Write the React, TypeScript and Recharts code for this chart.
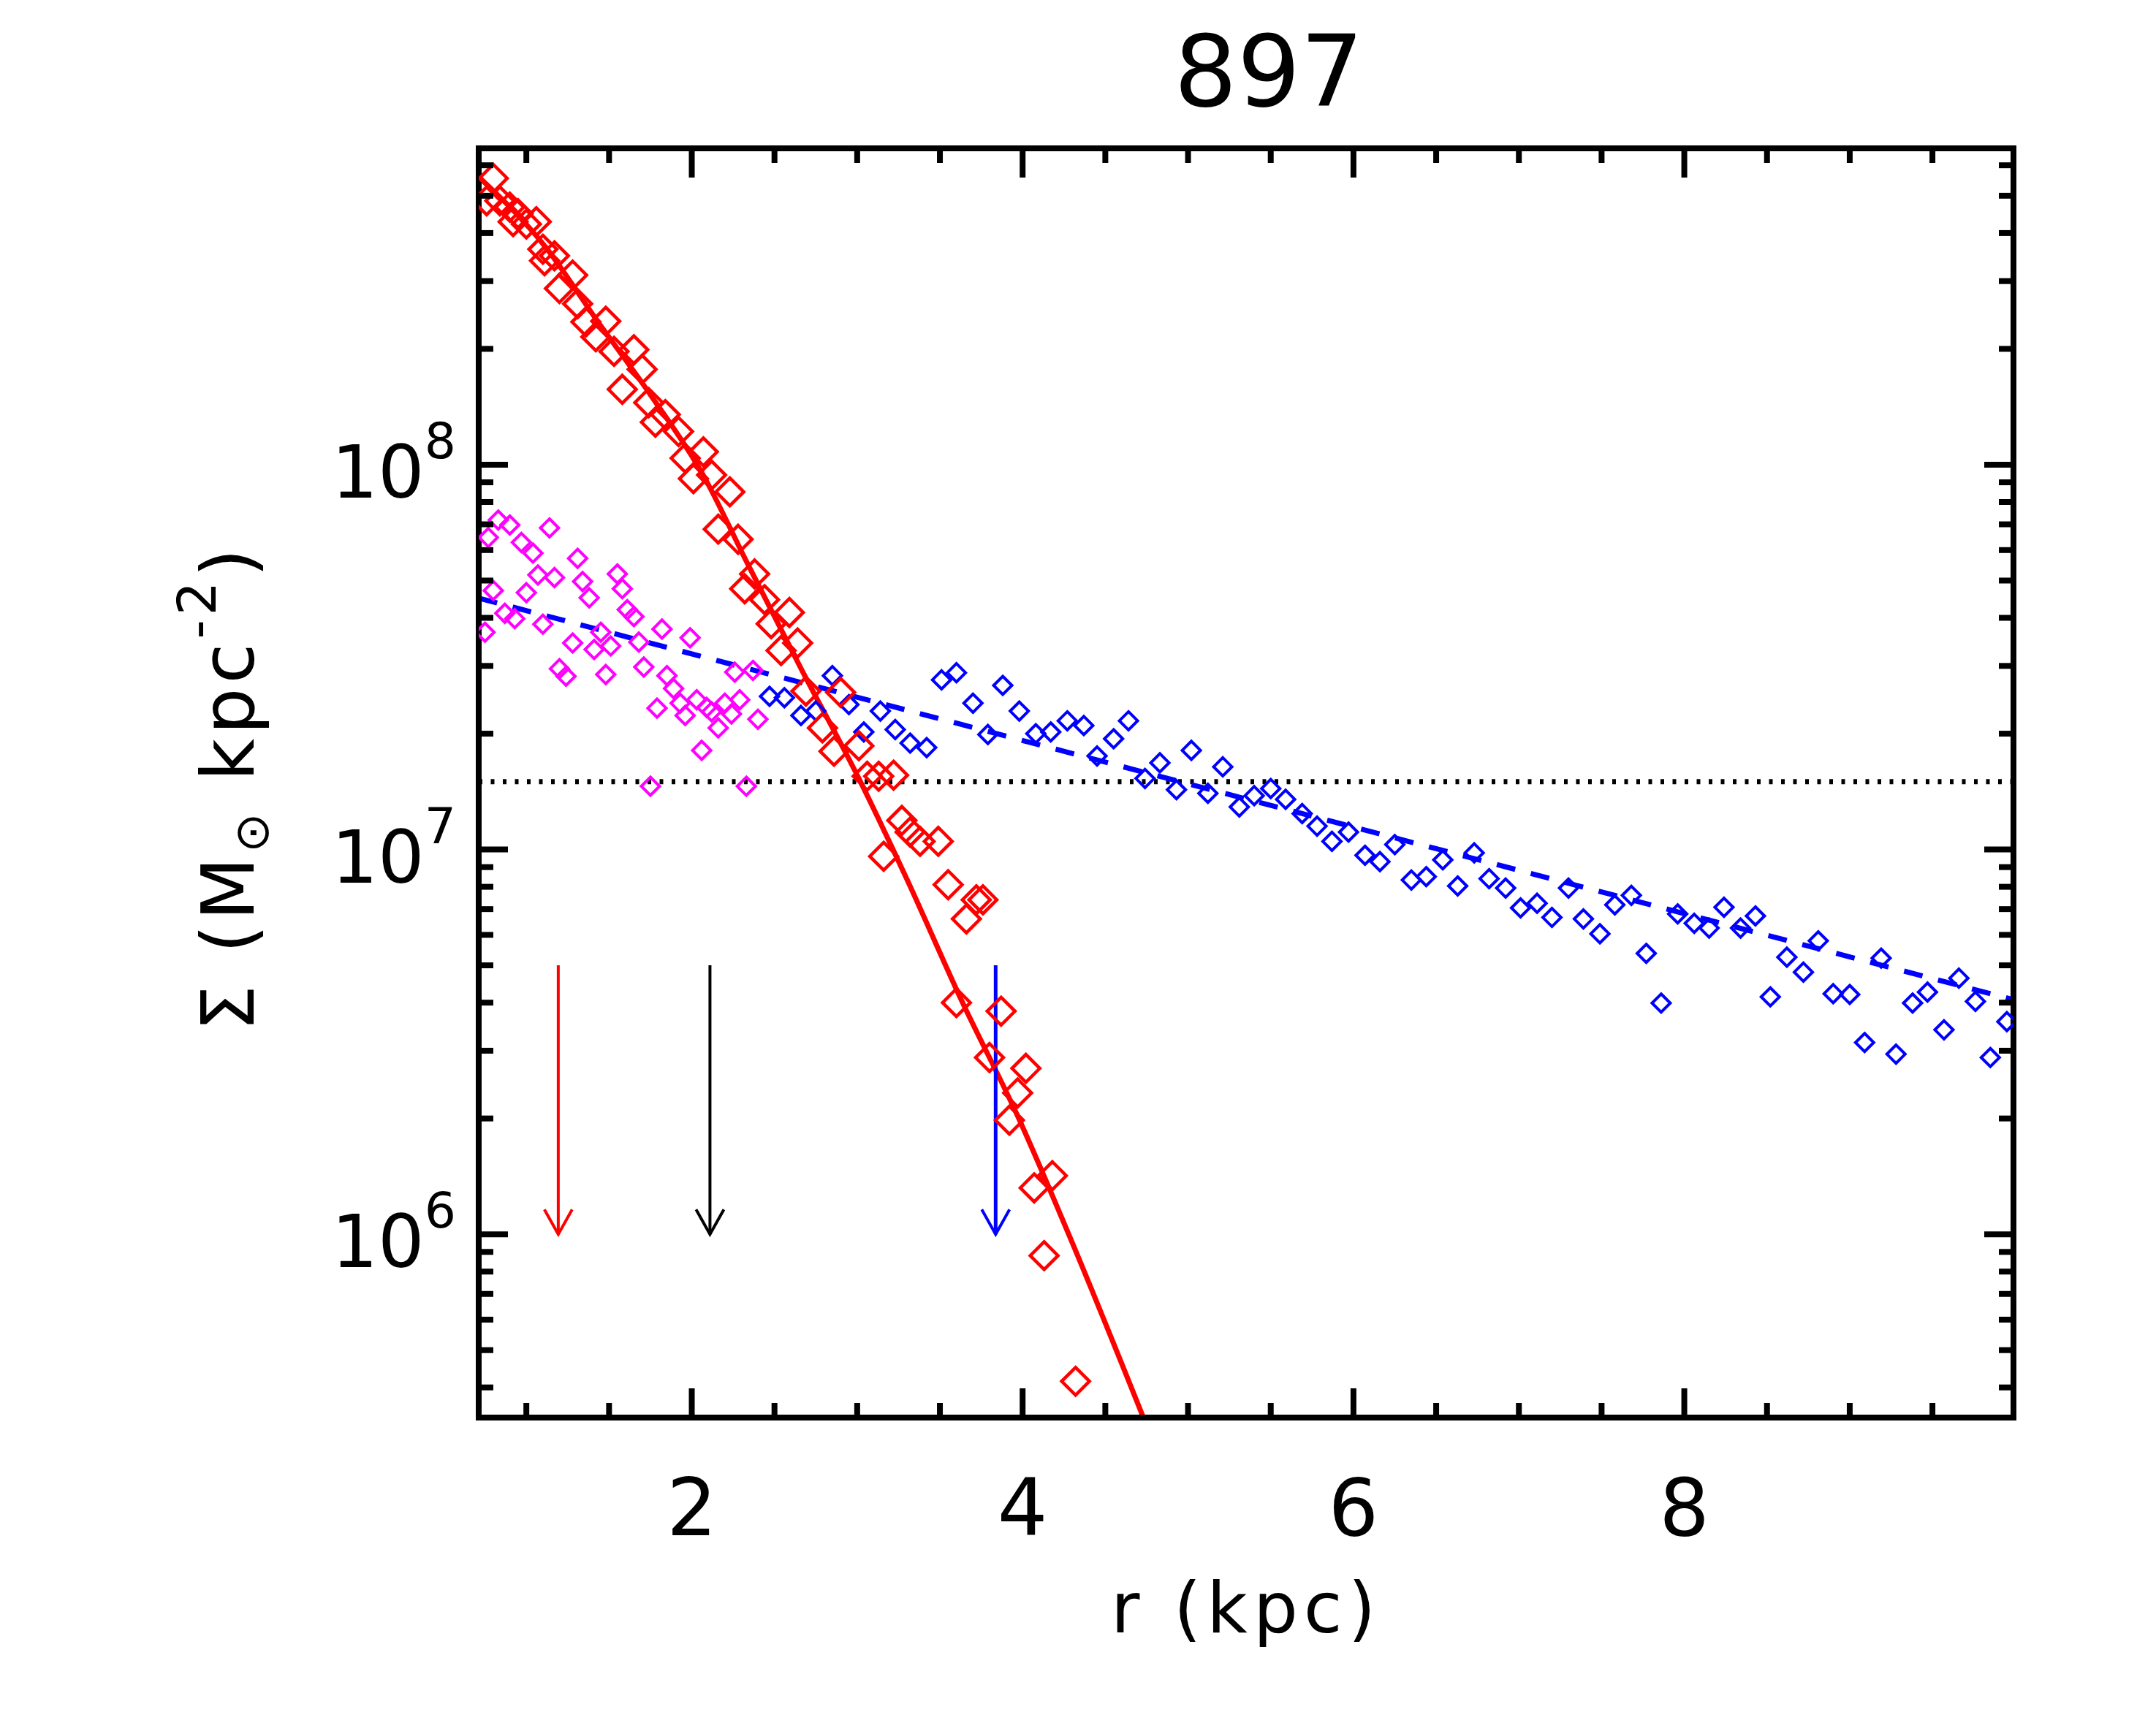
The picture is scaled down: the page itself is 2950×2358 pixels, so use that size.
import type { FC } from 'react';
import { ComposedChart, Line, Scatter, XAxis, YAxis } from 'recharts';

type Pt = { r: number; s: number };

const W = 2950;
const H = 2358;
// axes get 1px each, so the plot box is 655..2755 x 203..1940
const MARGIN = { top: 202, right: 194, bottom: 417, left: 654 };
const FONT = '"DejaVu Sans", sans-serif';

const xDomain: [number, number] = [0.712, 9.99];
const yDomain: [number, number] = [3.34e5, 6.64e8];

const xTicks = [1, 1.5, 2, 2.5, 3, 3.5, 4, 4.5, 5, 5.5, 6, 6.5, 7, 7.5, 8, 8.5, 9, 9.5];
const xMajor = [2, 4, 6, 8];
const yTicks = [
  4e5, 5e5, 6e5, 7e5, 8e5, 9e5,
  1e6, 2e6, 3e6, 4e6, 5e6, 6e6, 7e6, 8e6, 9e6,
  1e7, 2e7, 3e7, 4e7, 5e7, 6e7, 7e7, 8e7, 9e7,
  1e8, 2e8, 3e8, 4e8, 5e8, 6e8,
];

// bulge profile (red diamonds): [r kpc, Sigma]
const bulgePoints: [number, number][] = [
  [0.80, 5.55e8], [0.76, 4.85e8], [0.84, 4.85e8], [0.90, 4.67e8], [0.92, 4.28e8], [0.95, 4.49e8],
  [1.00, 4.22e8], [1.06, 4.28e8], [1.10, 3.63e8], [1.11, 3.39e8], [1.17, 3.49e8], [1.20, 2.87e8],
  [1.28, 3.11e8], [1.31, 2.62e8], [1.36, 2.35e8], [1.42, 2.15e8], [1.48, 2.36e8], [1.53, 1.97e8],
  [1.58, 1.57e8], [1.65, 1.99e8], [1.70, 1.77e8], [1.74, 1.45e8], [1.78, 1.29e8], [1.84, 1.35e8],
  [1.92, 1.22e8], [1.96, 1.04e8], [2.01, 9.2e7], [2.07, 1.08e8], [2.12, 9.4e7], [2.16, 6.8e7],
  [2.23, 8.5e7], [2.28, 6.4e7], [2.32, 4.76e7], [2.38, 5.2e7], [2.44, 4.46e7], [2.48, 3.86e7],
  [2.54, 3.29e7], [2.59, 4.13e7], [2.64, 3.44e7], [2.69, 2.58e7], [2.79, 2.07e7], [2.86, 1.8e7],
  [2.90, 2.56e7], [3.01, 1.86e7], [3.06, 1.55e7], [3.13, 1.55e7], [3.16, 9.6e6], [3.22, 1.56e7],
  [3.27, 1.19e7], [3.32, 1.11e7], [3.38, 1.05e7], [3.49, 1.05e7], [3.55, 8.1e6], [3.60, 4.0e6],
  [3.66, 6.6e6], [3.72, 7.4e6], [3.76, 7.4e6], [3.80, 2.88e6], [3.87, 3.8e6], [3.92, 1.98e6],
  [3.97, 2.33e6], [4.02, 2.7e6], [4.07, 1.32e6], [4.13, 8.8e5], [4.18, 1.42e6], [4.32, 4.15e5],
];

// magenta diamonds
const innerPoints: [number, number][] = [
  [0.75, 3.67e7], [0.77, 6.47e7], [0.80, 4.71e7], [0.83, 7.18e7], [0.87, 4.11e7], [0.90, 6.97e7],
  [0.93, 3.98e7], [0.97, 6.28e7], [1.00, 4.65e7], [1.04, 5.89e7], [1.07, 5.17e7], [1.10, 3.85e7],
  [1.14, 6.85e7], [1.17, 5.09e7], [1.20, 2.95e7], [1.24, 2.82e7], [1.28, 3.44e7], [1.31, 5.71e7],
  [1.34, 4.97e7], [1.38, 4.51e7], [1.41, 3.31e7], [1.45, 3.67e7], [1.48, 2.85e7], [1.51, 3.38e7],
  [1.55, 5.2e7], [1.58, 4.76e7], [1.61, 4.2e7], [1.65, 4.03e7], [1.68, 3.46e7], [1.71, 2.98e7],
  [1.75, 1.46e7], [1.79, 2.33e7], [1.82, 3.74e7], [1.85, 2.83e7], [1.89, 2.62e7], [1.93, 2.4e7],
  [1.96, 2.23e7], [1.99, 3.55e7], [2.03, 2.45e7], [2.06, 1.81e7], [2.09, 2.34e7], [2.12, 2.28e7],
  [2.16, 2.07e7], [2.20, 2.4e7], [2.24, 2.25e7], [2.26, 2.89e7], [2.29, 2.45e7], [2.33, 1.46e7],
  [2.37, 2.92e7], [2.40, 2.18e7],
];

// disk profile (blue diamonds)
const diskPoints: [number, number][] = [
  [2.47, 2.5e7], [2.56, 2.48e7], [2.66, 2.23e7], [2.75, 2.29e7], [2.85, 2.83e7], [2.95, 2.38e7],
  [3.04, 2.02e7], [3.14, 2.29e7], [3.23, 2.05e7], [3.32, 1.89e7], [3.42, 1.84e7], [3.51, 2.76e7],
  [3.60, 2.88e7], [3.70, 2.4e7], [3.79, 1.99e7], [3.88, 2.67e7], [3.98, 2.29e7], [4.08, 2.0e7],
  [4.17, 2.02e7], [4.27, 2.16e7], [4.37, 2.1e7], [4.45, 1.75e7], [4.55, 1.94e7], [4.64, 2.16e7],
  [4.74, 1.53e7], [4.83, 1.68e7], [4.93, 1.43e7], [5.02, 1.81e7], [5.12, 1.4e7], [5.21, 1.64e7],
  [5.31, 1.29e7], [5.40, 1.38e7], [5.50, 1.44e7], [5.59, 1.35e7], [5.69, 1.24e7], [5.78, 1.15e7],
  [5.87, 1.05e7], [5.97, 1.11e7], [6.07, 9.66e6], [6.16, 9.3e6], [6.25, 1.03e7], [6.35, 8.33e6],
  [6.44, 8.5e6], [6.54, 9.4e6], [6.63, 8.04e6], [6.73, 9.8e6], [6.82, 8.4e6], [6.92, 7.94e6],
  [7.01, 7.05e6], [7.11, 7.25e6], [7.20, 6.66e6], [7.30, 7.94e6], [7.39, 6.6e6], [7.49, 6.04e6],
  [7.58, 7.18e6], [7.68, 7.6e6], [7.77, 5.37e6], [7.86, 3.99e6], [7.96, 6.8e6], [8.06, 6.43e6],
  [8.15, 6.25e6], [8.24, 7.08e6], [8.34, 6.25e6], [8.43, 6.72e6], [8.52, 4.14e6], [8.62, 5.25e6],
  [8.72, 4.8e6], [8.81, 5.79e6], [8.90, 4.22e6], [9.00, 4.2e6], [9.09, 3.15e6], [9.19, 5.22e6],
  [9.28, 2.94e6], [9.38, 3.99e6], [9.47, 4.26e6], [9.57, 3.4e6], [9.66, 4.63e6], [9.76, 4.03e6],
  [9.85, 2.88e6], [9.95, 3.57e6],
];

// Sersic fit (red solid)
const bulgeFit: [number, number][] = [
  [0.712, 5.6e8], [1.12, 3.66e8], [1.43, 2.36e8], [1.75, 1.52e8], [2.07, 9.38e7], [2.34, 5.5e7],
  [2.67, 2.9e7], [3.01, 1.53e7], [3.30, 8.38e6], [3.63, 4.06e6], [3.97, 2.03e6], [4.30, 9.51e5],
  [4.73, 3.34e5],
];

// exponential fit (blue dashed)
const diskFit: [number, number][] = [
  [0.712, 4.5e7],
  [9.99, 4.07e6],
];

const threshold = 1.5e7;

const arrowTop = 5e6;
const arrowTip = 1e6;
const arrowR = [1.193, 2.11, 3.837];
const arrowColors = ['#ff0000', '#000000', '#0000ff'];

const toPts = (rows: [number, number][]): Pt[] => rows.map(([r, s]) => ({ r, s }));

const diamond = (color: string, half: number, sw: number) => (props: any) => {
  const { cx, cy } = props;
  if (cx == null || cy == null) return <g />;
  return (
    <path
      d={`M${cx},${cy - half}L${cx + half},${cy}L${cx},${cy + half}L${cx - half},${cy}Z`}
      fill="none"
      stroke={color}
      strokeWidth={sw}
    />
  );
};

const isDecade = (v: number) => Math.abs(Math.log10(v) - Math.round(Math.log10(v))) < 1e-6;

const BottomTick = (props: any) => {
  const { x, y, payload } = props;
  const major = xMajor.includes(payload.value);
  return (
    <g>
      <line x1={x} x2={x} y1={y} y2={y - (major ? 40 : 20)} stroke="#000" strokeWidth={8} />
      {major && (
        <text x={x} y={y + 161} textAnchor="middle" fontSize={108} fontFamily={FONT} fill="#000">
          {payload.value}
        </text>
      )}
    </g>
  );
};

const TopTick = (props: any) => {
  const { x, y, payload } = props;
  const major = xMajor.includes(payload.value);
  return <line x1={x} x2={x} y1={y} y2={y + (major ? 40 : 20)} stroke="#000" strokeWidth={8} />;
};

const LeftTick = (props: any) => {
  const { x, y, payload } = props;
  const major = isDecade(payload.value);
  return (
    <g>
      <line x1={x} x2={x + (major ? 40 : 20)} y1={y} y2={y} stroke="#000" strokeWidth={8} />
      {major && (
        <text x={x - 31} y={y + 45} textAnchor="end" fontSize={100} fontFamily={FONT} fill="#000">
          10
          <tspan dy={-54} fontSize={68}>
            {Math.round(Math.log10(payload.value))}
          </tspan>
        </text>
      )}
    </g>
  );
};

const RightTick = (props: any) => {
  const { x, y, payload } = props;
  const major = isDecade(payload.value);
  return <line x1={x} x2={x - (major ? 40 : 20)} y1={y} y2={y} stroke="#000" strokeWidth={8} />;
};

const arrowHead = (color: string) => (props: any) => {
  const { cx, cy, index } = props;
  if (index !== 1 || cx == null) return <g key={`ah-${index}`} />;
  return (
    <path
      key={`ah-${index}`}
      d={`M${cx - 19},${cy - 34}L${cx},${cy}L${cx + 19},${cy - 34}`}
      fill="none"
      stroke={color}
      strokeWidth={4}
    />
  );
};

const axisLine = { stroke: '#000', strokeWidth: 8, strokeLinecap: 'square' as const };

const App: FC = () => {
  const bulge = toPts(bulgePoints);
  const inner = toPts(innerPoints);
  const disk = toPts(diskPoints);
  const bulgeLine = toPts(bulgeFit);
  const diskLine = toPts(diskFit);
  const thresholdLine = [
    { r: xDomain[0], s: threshold },
    { r: xDomain[1], s: threshold },
  ];

  return (
    <div style={{ position: 'absolute', left: 0, top: 0, width: W, height: H, background: '#fff' }}>
      <ComposedChart width={W} height={H} margin={MARGIN}>
        <XAxis
          xAxisId="bottom"
          dataKey="r"
          type="number"
          domain={xDomain}
          allowDataOverflow
          ticks={xTicks}
          interval={0}
          height={1}
          tickSize={0}
          tickMargin={0}
          tickLine={false}
          axisLine={axisLine}
          stroke="#000"
          tick={BottomTick}
        />
        <XAxis
          xAxisId="top"
          orientation="top"
          dataKey="r"
          type="number"
          domain={xDomain}
          allowDataOverflow
          ticks={xTicks}
          interval={0}
          height={1}
          tickSize={0}
          tickMargin={0}
          tickLine={false}
          axisLine={axisLine}
          stroke="#000"
          tick={TopTick}
        />
        <YAxis
          yAxisId="left"
          dataKey="s"
          type="number"
          scale="log"
          domain={yDomain}
          allowDataOverflow
          ticks={yTicks}
          interval={0}
          width={1}
          tickSize={0}
          tickMargin={0}
          tickLine={false}
          axisLine={axisLine}
          stroke="#000"
          tick={LeftTick}
        />
        <YAxis
          yAxisId="right"
          orientation="right"
          dataKey="s"
          type="number"
          scale="log"
          domain={yDomain}
          allowDataOverflow
          ticks={yTicks}
          interval={0}
          width={1}
          tickSize={0}
          tickMargin={0}
          tickLine={false}
          axisLine={axisLine}
          stroke="#000"
          tick={RightTick}
        />

        <Scatter
          xAxisId="bottom"
          yAxisId="left"
          data={inner}
          dataKey="s"
          shape={diamond('#ff00ff', 12.5, 4)}
          isAnimationActive={false}
        />
        <Scatter
          xAxisId="bottom"
          yAxisId="left"
          data={disk}
          dataKey="s"
          shape={diamond('#0000ff', 12.5, 4)}
          isAnimationActive={false}
        />
        <Scatter
          xAxisId="bottom"
          yAxisId="left"
          data={bulge}
          dataKey="s"
          shape={diamond('#ff0000', 19, 4.5)}
          isAnimationActive={false}
        />

        <Line
          xAxisId="top"
          yAxisId="right"
          data={thresholdLine}
          dataKey="s"
          stroke="#000"
          strokeWidth={7}
          strokeDasharray="5 11.5"
          dot={false}
          activeDot={false}
          isAnimationActive={false}
        />
        <Line
          xAxisId="bottom"
          yAxisId="left"
          data={diskLine}
          dataKey="s"
          stroke="#0000ff"
          strokeWidth={7}
          strokeDasharray="26 22"
          dot={false}
          activeDot={false}
          isAnimationActive={false}
        />
        <Line
          xAxisId="bottom"
          yAxisId="left"
          type="monotone"
          data={bulgeLine}
          dataKey="s"
          stroke="#ff0000"
          strokeWidth={7}
          dot={false}
          activeDot={false}
          isAnimationActive={false}
        />

        {arrowR.map((r, i) => (
          <Line
            key={`arrow-${i}`}
            xAxisId="bottom"
            yAxisId="left"
            data={[
              { r, s: arrowTop },
              { r, s: arrowTip },
            ]}
            dataKey="s"
            stroke={arrowColors[i]}
            strokeWidth={i === 2 ? 5 : 4}
            dot={arrowHead(arrowColors[i])}
            activeDot={false}
            isAnimationActive={false}
          />
        ))}
      </ComposedChart>

      <svg
        width={W}
        height={H}
        style={{ position: 'absolute', left: 0, top: 0, pointerEvents: 'none' }}
      >
        <text x={1736} y={145} textAnchor="middle" fontSize={136} fontFamily={FONT} fill="#000">
          897
        </text>
        <text
          x={1705}
          y={2234}
          textAnchor="middle"
          fontSize={96}
          letterSpacing={8}
          fontFamily={FONT}
          fill="#000"
        >
          r (kpc)
        </text>
        <text
          x={347}
          y={1078}
          transform="rotate(-90 347 1078)"
          textAnchor="middle"
          fontSize={100}
          letterSpacing={6}
          fontFamily={FONT}
          fill="#000"
        >
          Σ (M
          <tspan dy={20} fontSize={65}>
            ⊙
          </tspan>
          <tspan dy={-20} fontSize={100}>
            {' kpc'}
          </tspan>
          <tspan dy={-52} fontSize={73}>
            -2
          </tspan>
          <tspan dy={52} fontSize={100}>
            )
          </tspan>
        </text>
      </svg>
    </div>
  );
};

export default App;
